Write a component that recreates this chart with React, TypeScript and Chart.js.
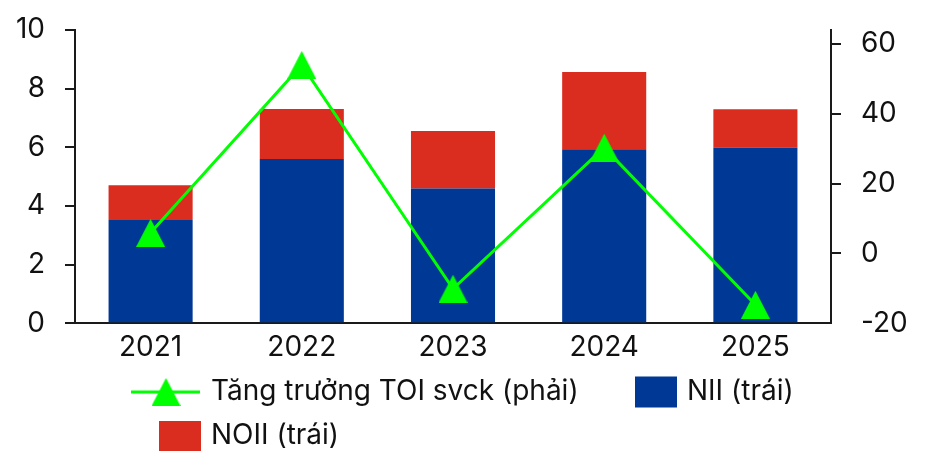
import React, { useEffect, useRef } from "react";
import { Chart, registerables } from "chart.js";

Chart.register(...registerables);

// Data
const years = ["2021", "2022", "2023", "2024", "2025"];
const niiValues = [3.52, 5.6, 4.6, 5.93, 5.99];
const noiiValues = [1.19, 1.71, 1.96, 2.64, 1.31];
const toiGrowth = [5.9, 54.0, -10.1, 30.3, -14.7];

const NII_LABEL = "NII (trái)";
const NOII_LABEL = "NOII (trái)";
const TOI_LABEL = "Tăng trưởng TOI svck (phải)";

// Styling
const FONT = "Inter, 'Noto Sans', sans-serif";
const FONT_SIZE = 28;
const TEXT_COLOR = "#111111";
const AXIS_COLOR = "#1a1a1a";
const BLUE = "#003896";
const RED = "#DA2C1F";
const GREEN = "#00FF00";

function makeTriangle(w: number, h: number, color: string): HTMLCanvasElement {
  const c = document.createElement("canvas");
  c.width = w;
  c.height = h;
  const g = c.getContext("2d")!;
  g.fillStyle = color;
  g.beginPath();
  g.moveTo(w / 2, 0);
  g.lineTo(w, h);
  g.lineTo(0, h);
  g.closePath();
  g.fill();
  return c;
}

// Legend drawn under the plot in two rows
const legendPlugin = {
  id: "bottomLegend",
  afterDraw(chart: any) {
    const ctx: CanvasRenderingContext2D = chart.ctx;
    const ds = chart.data.datasets;
    const tri = (chart as any).$triangle as HTMLCanvasElement;
    ctx.save();
    ctx.font = `${FONT_SIZE}px ${FONT}`;
    ctx.fillStyle = TEXT_COLOR;
    ctx.textBaseline = "middle";
    ctx.textAlign = "left";

    const row1 = 392;
    const row2 = 436;

    // growth line swatch
    ctx.strokeStyle = GREEN;
    ctx.lineWidth = 3;
    ctx.beginPath();
    ctx.moveTo(131, row1);
    ctx.lineTo(200, row1);
    ctx.stroke();
    if (tri) ctx.drawImage(tri, 166 - tri.width / 2, row1 - tri.height / 2);
    ctx.fillStyle = TEXT_COLOR;
    ctx.fillText(ds[2].label, 211, row1);

    // NII swatch
    ctx.fillStyle = BLUE;
    ctx.fillRect(635, row1 - 15.5, 42, 31);
    ctx.fillStyle = TEXT_COLOR;
    ctx.fillText(ds[0].label, 687, row1);

    // NOII swatch
    ctx.fillStyle = RED;
    ctx.fillRect(159, row2 - 15, 42, 31);
    ctx.fillStyle = TEXT_COLOR;
    ctx.fillText(ds[1].label, 211, row2);
    ctx.restore();
  },
};

// Keep the label overhang of the value axes from pushing the plot area down
const fitValueAxis = (width: number) => (scale: any) => {
  scale.width = width;
  scale.paddingTop = 0;
  scale.paddingBottom = 0;
};

export default function App() {
  const canvasRef = useRef<HTMLCanvasElement | null>(null);

  useEffect(() => {
    const canvas = canvasRef.current;
    if (!canvas) return;
    const triangle = makeTriangle(29, 28, GREEN);

    Chart.defaults.font.family = FONT;
    Chart.defaults.font.size = FONT_SIZE;
    Chart.defaults.color = TEXT_COLOR;

    const chart = new Chart(canvas, {
      type: "bar",
      data: {
        labels: years,
        datasets: [
          {
            type: "bar",
            label: NII_LABEL,
            data: niiValues,
            backgroundColor: BLUE,
            borderWidth: 0,
            yAxisID: "y",
            stack: "toi",
            order: 1,
            barPercentage: 0.556,
            categoryPercentage: 1,
          },
          {
            type: "bar",
            label: NOII_LABEL,
            data: noiiValues,
            backgroundColor: RED,
            borderWidth: 0,
            yAxisID: "y",
            stack: "toi",
            order: 1,
            barPercentage: 0.556,
            categoryPercentage: 1,
          },
          {
            type: "line",
            label: TOI_LABEL,
            data: toiGrowth,
            borderColor: GREEN,
            backgroundColor: GREEN,
            borderWidth: 3,
            pointStyle: triangle as any,
            pointRadius: 14,
            pointHoverRadius: 14,
            yAxisID: "y1",
            order: 0,
            tension: 0,
            clip: false as any,
          },
        ],
      },
      options: {
        animation: false,
        responsive: false,
        maintainAspectRatio: false,
        layout: { padding: { top: 30, bottom: 0, left: 0, right: 0 } },
        plugins: {
          legend: { display: false },
          tooltip: { enabled: false },
        },
        scales: {
          x: {
            stacked: true,
            grid: { display: false, drawTicks: false },
            border: { display: true, color: AXIS_COLOR, width: 2 },
            ticks: { padding: 7, color: TEXT_COLOR },
            afterFit: (scale: any) => {
              scale.height = 127.7;
            },
          },
          y: {
            stacked: true,
            position: "left",
            min: 0,
            max: 10,
            grid: {
              display: true,
              drawOnChartArea: false,
              drawTicks: true,
              tickLength: 10,
              color: AXIS_COLOR,
              lineWidth: 2,
            },
            border: { display: true, color: AXIS_COLOR, width: 2 },
            ticks: { stepSize: 2, padding: 20, color: TEXT_COLOR },
            afterFit: fitValueAxis(75),
          },
          y1: {
            position: "right",
            min: -20,
            max: 64,
            grid: {
              display: true,
              drawOnChartArea: false,
              drawTicks: true,
              tickLength: 10,
              color: (c: any) => (c.tick && c.tick.value === -20 ? "rgba(0,0,0,0)" : AXIS_COLOR),
              lineWidth: 2,
            },
            border: { display: true, color: AXIS_COLOR, width: 2 },
            ticks: { stepSize: 20, padding: 20, includeBounds: false, color: TEXT_COLOR },
            afterFit: fitValueAxis(98),
          },
        },
      },
      plugins: [legendPlugin],
    });
    (chart as any).$triangle = triangle;
    chart.draw();

    return () => chart.destroy();
  }, []);

  return (
    <div style={{ position: "absolute", left: 0, top: 0, width: 929, height: 451, background: "#fff" }}>
      <canvas ref={canvasRef} width={929} height={451} style={{ display: "block" }} />
    </div>
  );
}
